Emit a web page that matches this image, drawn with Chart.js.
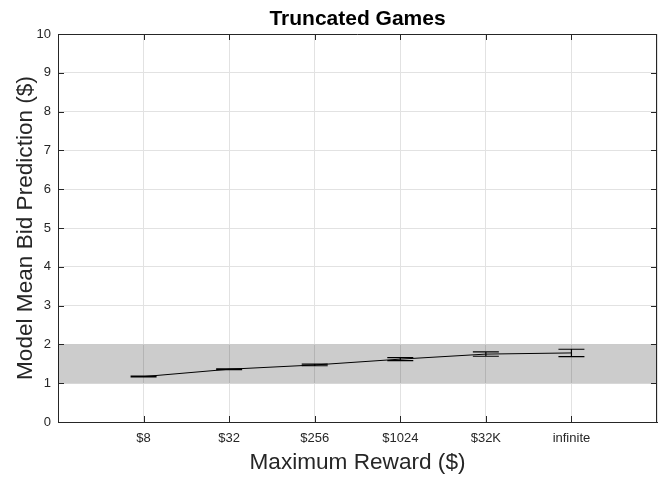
<!DOCTYPE html>
<html>
<head>
<meta charset="utf-8">
<script src="https://cdn.jsdelivr.net/npm/chart.js@4.4.1/dist/chart.umd.min.js"></script>
<style>
  html, body { margin: 0; padding: 0; background: #fff; }
  #wrap { width: 658px; height: 477px; }
</style>
</head>
<body>
<div id="wrap"><canvas id="truncChart" width="658" height="477"></canvas></div>
<script>
// categories on the x axis (positions 1..6, axis runs 0..7)
const rewardLabels = ['$8', '$32', '$256', '$1024', '$32K', 'infinite'];
// mean bid predicted by the model
const meanBid = [1.17, 1.36, 1.47, 1.62, 1.75, 1.78];
// half-width of error bars
const bidErr = [0.01, 0.01, 0.02, 0.04, 0.055, 0.095];
// shaded band
const bandLow = 1;
const bandHigh = 2;
const yTicks = [0, 1, 2, 3, 4, 5, 6, 7, 8, 9, 10];
const chartTitle = 'Truncated Games';

const axisColor = '#262626';
const fontFam = 'Liberation Sans, Arial, sans-serif';
const ctx = document.getElementById('truncChart').getContext('2d');

// error bars, box, inward ticks and a title centred over the plot (matlab style)
const errorBarPlugin = {
  id: 'errorBars',
  afterDatasetsDraw(chart) {
    const xs = chart.scales.x, ys = chart.scales.y;
    const c = chart.ctx;
    const area = chart.chartArea;
    c.save();
    c.strokeStyle = '#000';
    c.lineWidth = 1.2;
    meanBid.forEach((v, i) => {
      const px = xs.getPixelForValue(i + 1);
      const top = ys.getPixelForValue(v + bidErr[i]);
      const bot = ys.getPixelForValue(v - bidErr[i]);
      c.beginPath();
      c.moveTo(px, top); c.lineTo(px, bot);
      c.moveTo(px - 13, top); c.lineTo(px + 13, top);
      c.moveTo(px - 13, bot); c.lineTo(px + 13, bot);
      c.stroke();
    });
    // box
    c.strokeStyle = axisColor;
    c.lineWidth = 1;
    c.beginPath();
    c.moveTo(area.left, area.top + 0.5); c.lineTo(area.right, area.top + 0.5);
    c.moveTo(area.right - 0.5, area.top); c.lineTo(area.right - 0.5, area.bottom);
    // ticks pointing in
    yTicks.forEach(t => {
      const py = Math.round(ys.getPixelForValue(t)) + 0.5;
      c.moveTo(area.left, py); c.lineTo(area.left + 6, py);
      c.moveTo(area.right, py); c.lineTo(area.right - 6, py);
    });
    rewardLabels.forEach((l, i) => {
      const px = Math.round(xs.getPixelForValue(i + 1)) + 0.5;
      c.moveTo(px, area.bottom); c.lineTo(px, area.bottom - 6);
      c.moveTo(px, area.top); c.lineTo(px, area.top + 6);
    });
    c.stroke();
    // title
    c.fillStyle = '#000';
    c.font = 'bold 21px ' + fontFam;
    c.textAlign = 'center';
    c.textBaseline = 'alphabetic';
    c.fillText(chartTitle, (area.left + area.right) / 2, 25);
    c.restore();
  }
};

const data = {
  datasets: [
    {
      label: 'mean',
      data: meanBid.map((v, i) => ({ x: i + 1, y: v })),
      borderColor: '#000',
      borderWidth: 1,
      pointRadius: 0,
      fill: false,
      order: 0
    },
    {
      label: 'bandHigh',
      data: [{ x: 0, y: bandHigh }, { x: 7, y: bandHigh }],
      borderWidth: 0,
      borderColor: 'rgba(0,0,0,0)',
      pointRadius: 0,
      backgroundColor: 'rgba(0,0,0,0.2)',
      fill: '+1',
      order: 1
    },
    {
      label: 'bandLow',
      data: [{ x: 0, y: bandLow }, { x: 7, y: bandLow }],
      borderWidth: 0,
      borderColor: 'rgba(0,0,0,0)',
      pointRadius: 0,
      fill: false,
      order: 2
    }
  ]
};

const config = {
  type: 'line',
  data: data,
  options: {
    responsive: false,
    animation: false,
    layout: { padding: { right: 1, left: 0, top: 34, bottom: 0 } },
    plugins: {
      legend: { display: false },
      tooltip: { enabled: false },
      title: { display: false }
    },
    scales: {
      x: {
        type: 'linear',
        min: 0,
        max: 7,
        afterFit: s => { s.height = 55; s.paddingLeft = 0; s.paddingRight = 0; },
        afterBuildTicks: s => { s.ticks = [0, 1, 2, 3, 4, 5, 6, 7].map(v => ({ value: v })); },
        ticks: {
          color: axisColor,
          font: { family: fontFam, size: 13 },
          padding: 9,
          maxRotation: 0,
          callback: v => rewardLabels[v - 1] || ''
        },
        grid: { color: '#e2e2e2', drawTicks: false },
        border: { color: axisColor, width: 1 },
        title: {
          display: true,
          text: 'Maximum Reward ($)',
          color: axisColor,
          font: { family: fontFam, size: 22.6 },
          padding: { top: 0, bottom: 1 }
        }
      },
      y: {
        min: 0,
        max: 10,
        afterFit: s => { s.width = 58; s.paddingTop = 0; s.paddingBottom = 0; },
        ticks: {
          stepSize: 1,
          color: axisColor,
          font: { family: fontFam, size: 13 },
          padding: 7
        },
        grid: { color: '#e2e2e2', drawTicks: false },
        border: { color: axisColor, width: 1 },
        title: {
          display: true,
          text: 'Model Mean Bid Prediction ($)',
          color: axisColor,
          font: { family: fontFam, size: 22.6 },
          padding: { top: 12, bottom: 0 }
        }
      }
    }
  },
  plugins: [errorBarPlugin]
};

const myChart = new Chart(ctx, config);
</script>
</body>
</html>
